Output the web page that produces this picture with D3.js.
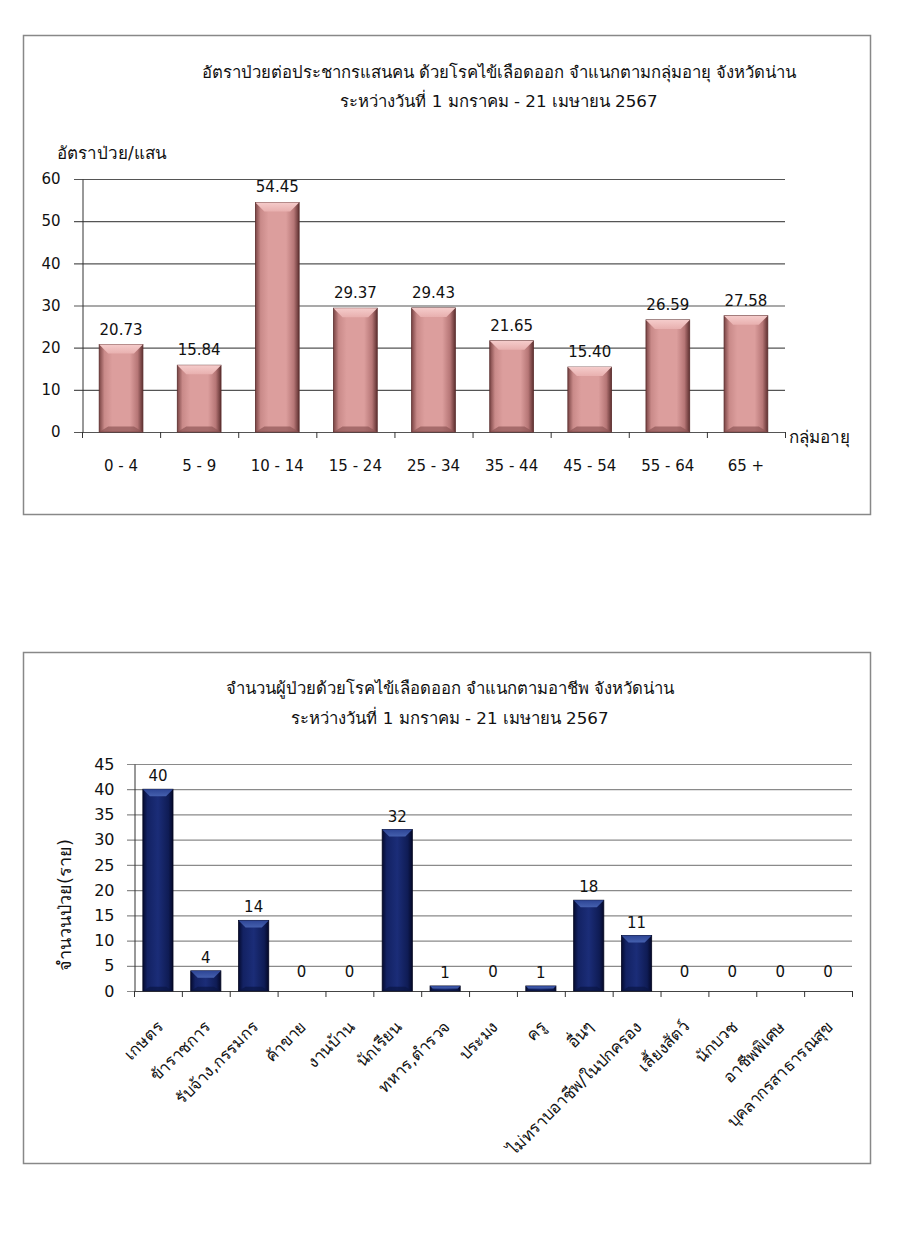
<!DOCTYPE html>
<html><head><meta charset="utf-8">
<script src="https://cdn.jsdelivr.net/npm/d3@7"></script>
<style>
body{margin:0;background:#fff;}
svg text{font-family:"DejaVu Sans","Noto Sans",sans-serif;fill:#111;}
</style></head>
<body><svg id="c" width="900" height="1245"></svg>
<script>
// ---- data: chart 1 (rate per 100,000 by age group)
const ageGroups = ["0 - 4","5 - 9","10 - 14","15 - 24","25 - 34","35 - 44","45 - 54","55 - 64","65 +"];
const ageRates = [20.73,15.84,54.45,29.37,29.43,21.65,15.40,26.59,27.58];
const rateTicks = [0,10,20,30,40,50,60];
const title1 = ["อัตราป่วยต่อประชากรแสนคน ด้วยโรคไข้เลือดออก จำแนกตามกลุ่มอายุ จังหวัดน่าน","ระหว่างวันที่  1 มกราคม - 21 เมษายน 2567"];
const yTitle1 = "อัตราป่วย/แสน";
const xTitle1 = "กลุ่มอายุ";
// ---- data: chart 2 (cases by occupation)
const occupations = ["เกษตร","ข้าราชการ","รับจ้าง,กรรมกร","ค้าขาย","งานบ้าน","นักเรียน","ทหาร,ตำรวจ","ประมง","ครู","อื่นๆ","ไม่ทราบอาชีพ/ในปกครอง","เลี้ยงสัตว์","นักบวช","อาชีพพิเศษ","บุคลากรสาธารณสุข"];
const occCases = [40,4,14,0,0,32,1,0,1,18,11,0,0,0,0];
const caseTicks = [0,5,10,15,20,25,30,35,40,45];
const title2 = ["จำนวนผู้ป่วยด้วยโรคไข้เลือดออก จำแนกตามอาชีพ จังหวัดน่าน","ระหว่างวันที่  1 มกราคม - 21 เมษายน 2567"];
const yTitle2 = "จำนวนป่วย(ราย)";

const svg = d3.select("#c");
const defs = svg.append("defs");
function hgrad(id, stops){
  const g = defs.append("linearGradient").attr("id",id).attr("x1","0").attr("x2","1").attr("y1","0").attr("y2","0");
  stops.forEach(s=>g.append("stop").attr("offset",s[0]).attr("stop-color",s[1]));
}
function vgrad(id, stops){
  const g = defs.append("linearGradient").attr("id",id).attr("x1","0").attr("x2","0").attr("y1","0").attr("y2","1");
  stops.forEach(s=>g.append("stop").attr("offset",s[0]).attr("stop-color",s[1]));
}
hgrad("pinkBody",[[0,"#7a4444"],[0.12,"#c98a89"],[0.3,"#dc9e9d"],[0.7,"#dc9e9d"],[0.88,"#b67676"],[1,"#5e3030"]]);
vgrad("pinkTop",[[0,"#f5cccb"],[1,"#e8b0af"]]);
hgrad("navyBody",[[0,"#050b30"],[0.15,"#132263"],[0.5,"#1b2d78"],[0.85,"#0f1c55"],[1,"#040828"]]);
vgrad("navyTop",[[0,"#2d4595"],[1,"#4560ae"]]);

function bevelBar(g, x, y, w, h, b, body, top, edge, bottomCol){
  g.append("rect").attr("x",x).attr("y",y).attr("width",w).attr("height",h).attr("fill",`url(#${body})`).attr("stroke",edge).attr("stroke-width",0.8);
  const bb = Math.min(b, h/2);
  if (h > 2){
    g.append("path").attr("d",`M${x},${y}L${x+w},${y}L${x+w-bb},${y+bb}L${x+bb},${y+bb}Z`).attr("fill",`url(#${top})`);
    g.append("path").attr("d",`M${x},${y+h}L${x+w},${y+h}L${x+w-bb},${y+h-bb*0.6}L${x+bb},${y+h-bb*0.6}Z`).attr("fill",bottomCol).attr("opacity",0.7);
  }
}

// ---------- Chart 1 ----------
svg.append("rect").attr("x",23.5).attr("y",35.5).attr("width",847).attr("height",479).attr("fill","#fff").attr("stroke","#888").attr("stroke-width",1.5);
const g1 = svg.append("g");
const x1 = d3.scaleBand().domain(ageGroups).range([82,785]).paddingInner(0.44).paddingOuter(0.22);
const y1 = d3.scaleLinear().domain([0,60]).range([432,179]);
title1.forEach((t,i)=>g1.append("text").attr("x",499).attr("y",78+i*29).attr("text-anchor","middle").style("font-size","16.7px").text(t));
g1.append("text").attr("x",57).attr("y",159).style("font-size","17px").text(yTitle1);
g1.append("g").selectAll("line").data(rateTicks).join("line")
  .attr("x1",74).attr("x2",785).attr("y1",d=>y1(d)+0.5).attr("y2",d=>y1(d)+0.5).attr("stroke","#555").attr("stroke-width",1.2);
const ya1 = g1.append("g").attr("transform","translate(82.5,0)").call(d3.axisLeft(y1).tickValues(rateTicks).tickSize(0).tickPadding(22).tickFormat(d3.format("d")));
ya1.select(".domain").attr("stroke","#333");
ya1.selectAll("text").style("font-size","15px").attr("fill","#111").style("font-family","DejaVu Sans");
const xb1 = [...ageGroups.map(c=>x1(c)-x1.step()*x1.paddingInner()/2), 785];
g1.append("g").selectAll("line").data(xb1).join("line").attr("x1",d=>d+0.5).attr("x2",d=>d+0.5).attr("y1",432).attr("y2",438).attr("stroke","#333");
g1.append("g").selectAll("text").data(ageGroups).join("text")
  .attr("x",d=>x1(d)+x1.bandwidth()/2).attr("y",471).attr("text-anchor","middle").style("font-size","15px").text(d=>d);
g1.append("text").attr("x",789).attr("y",443).style("font-size","17px").text(xTitle1);
ageGroups.forEach((c,i)=>{
  const yy=y1(ageRates[i]);
  bevelBar(g1, x1(c), yy, x1.bandwidth(), 432-yy, 9, "pinkBody","pinkTop","#5a2c2c","#8e5656");
});
g1.append("g").selectAll("text.v").data(ageRates).join("text")
  .attr("x",(d,i)=>x1(ageGroups[i])+x1.bandwidth()/2).attr("y",d=>y1(d)-10).attr("text-anchor","middle").style("font-size","15px").text(d=>d.toFixed(2));

// ---------- Chart 2 ----------
svg.append("rect").attr("x",23.5).attr("y",652.5).attr("width",847).attr("height",511).attr("fill","#fff").attr("stroke","#888").attr("stroke-width",1.5);
const g2 = svg.append("g");
const x2 = d3.scaleBand().domain(occupations).range([134,852]).paddingInner(0.37).paddingOuter(0.185);
const y2 = d3.scaleLinear().domain([0,45]).range([991,764]);
title2.forEach((t,i)=>g2.append("text").attr("x",450).attr("y",694+i*30).attr("text-anchor","middle").style("font-size","16.7px").text(t));
g2.append("g").selectAll("line").data(caseTicks).join("line")
  .attr("x1",127).attr("x2",852).attr("y1",d=>y2(d)+0.5).attr("y2",d=>y2(d)+0.5).attr("stroke","#8a8a8a").attr("stroke-width",1.2);
const ya2 = g2.append("g").attr("transform","translate(134.5,0)").call(d3.axisLeft(y2).tickValues(caseTicks).tickSize(0).tickPadding(20));
ya2.select(".domain").attr("stroke","#333");
ya2.selectAll("text").style("font-size","16px").attr("fill","#111");
g2.append("line").attr("x1",134).attr("x2",852).attr("y1",991.5).attr("y2",991.5).attr("stroke","#444");
const xb2 = [...occupations.map(c=>x2(c)-x2.step()*x2.paddingInner()/2), 852];
g2.append("g").selectAll("line").data(xb2).join("line").attr("x1",d=>d+0.5).attr("x2",d=>d+0.5).attr("y1",991).attr("y2",997).attr("stroke","#333");
g2.append("g").selectAll("text").data(occupations).join("text")
  .attr("transform",d=>`translate(${x2(d)+x2.bandwidth()/2-1},1021) rotate(-45)`)
  .attr("text-anchor","end").attr("dy","0.6em").style("font-size","16.5px").text(d=>d);
g2.append("text").attr("transform","translate(71,905) rotate(-90)").attr("text-anchor","middle").style("font-size","18px").text(yTitle2);
occupations.forEach((c,i)=>{
  const yy=y2(occCases[i]);
  bevelBar(g2, x2(c), yy, x2.bandwidth(), 991-yy, 7, "navyBody","navyTop","#030620","#0a1545");
});
g2.append("g").selectAll("text.v").data(occCases).join("text")
  .attr("x",(d,i)=>x2(occupations[i])+x2.bandwidth()/2).attr("y",d=>y2(d)-(d===0?14:8)).attr("text-anchor","middle").style("font-size","15px").text(d=>d);
</script></body></html>
